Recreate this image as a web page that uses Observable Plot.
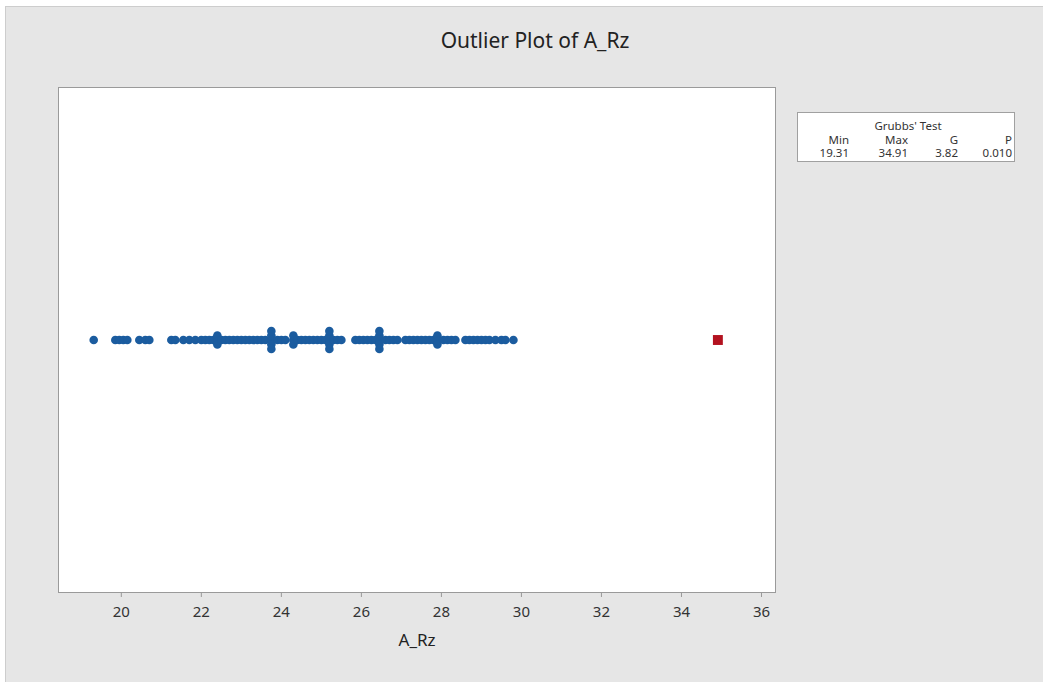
<!DOCTYPE html>
<html>
<head>
<meta charset="utf-8">
<script src="https://cdn.jsdelivr.net/npm/d3@7"></script>
<script src="https://cdn.jsdelivr.net/npm/@observablehq/plot@0.6"></script>
<style>
  html, body { margin: 0; padding: 0; background: #ffffff; }
  body { width: 1043px; height: 682px; position: relative; overflow: hidden; font-family: "Noto Sans", "Open Sans", sans-serif; }
  #panel { position: absolute; left: 5px; top: 6px; width: 1040px; height: 680px; background: #e6e6e6; border: 1px solid #cdcdcd; box-sizing: border-box; }
  #title { position: absolute; left: 235px; width: 600px; top: 26px; text-align: center; font-size: 21px; color: #222; }
  #chart { position: absolute; left: 0; top: 0; }
  #legend { position: absolute; left: 797px; top: 112px; width: 218px; height: 50px; background: #fff; border: 1px solid #a0a0a0; box-sizing: border-box; padding-top: 6px; font-size: 11.5px; color: #333; line-height: 13.5px; }
  #legend .head { text-align: center; padding-left: 4px; }
  #legend .row { display: grid; grid-template-columns: 51px 59px 50px 54px; }
  #legend .row span { text-align: right; }
</style>
</head>
<body>
<div id="panel"></div>
<div id="title">Outlier Plot of A_Rz</div>
<div id="chart"></div>
<div id="legend"></div>
<script>
// Data
const values = [19.31,
  19.85, 19.95, 20.05, 20.15,
  20.45, 20.6, 20.7,
  21.25, 21.35, 21.55, 21.7, 21.85, 22.0, 22.1, 22.2, 22.3, 22.4, 22.4, 22.4, 22.5, 22.6, 22.7,
  22.8, 22.9, 23.0, 23.1, 23.2, 23.3, 23.4, 23.5, 23.6, 23.75, 23.75, 23.75, 23.75, 23.75,
  23.9, 24.0, 24.1, 24.3, 24.3, 24.3, 24.4, 24.5, 24.6, 24.7, 24.8, 24.9, 25.0, 25.1,
  25.2, 25.2, 25.2, 25.2, 25.2, 25.3, 25.4, 25.5,
  25.85, 25.95, 26.05, 26.15, 26.25, 26.35, 26.45, 26.45, 26.45, 26.45, 26.45, 26.6, 26.7, 26.8, 26.9,
  27.1, 27.2, 27.3, 27.4, 27.5, 27.6, 27.7, 27.8, 27.9, 27.9, 27.9, 28.05, 28.15, 28.25, 28.35,
  28.6, 28.7, 28.8, 28.9, 29.0, 29.1, 29.2, 29.35, 29.5, 29.6, 29.8];
const outliers = [34.91];
const xTicks = [20, 22, 24, 26, 28, 30, 32, 34, 36];
const testTitle = "Grubbs' Test";
const testHeaders = ["Min", "Max", "G", "P"];
const testValues = ["19.31", "34.91", "3.82", "0.010"];

// stack tied values alternately above/below the centre line
function stacked(arr) {
  const counts = new Map();
  return arr.map(v => {
    const k = counts.get(v) || 0;
    counts.set(v, k + 1);
    const off = k === 0 ? 0 : (k % 2 ? 1 : -1) * Math.ceil(k / 2);
    return {v, off};
  });
}
const pts = stacked(values);
const outPts = stacked(outliers);

const chart = Plot.plot({
  width: 800,
  height: 660,
  marginLeft: 58,
  marginRight: 25,
  marginTop: 87,
  marginBottom: 68,
  style: {background: "transparent", fontFamily: "Noto Sans, Open Sans, sans-serif", color: "#333"},
  x: {domain: [18.43, 36.35]},
  y: {domain: [-56, 56], axis: null},
  marks: [
    Plot.frame({fill: "#ffffff", stroke: "#9a9a9a"}),
    Plot.axisX({ticks: xTicks, tickSize: 5, tickPadding: 9, fontSize: 15, stroke: "#999", label: null, tickFormat: d => String(d)}),
    Plot.dot(pts, {x: "v", y: "off", r: 4.3, fill: "#1b5c9f", stroke: "none"}),
    Plot.dot(outPts, {x: "v", y: "off", r: 5.6, symbol: "square", fill: "#b3121f", stroke: "none"}),
    Plot.text(["A_Rz"], {frameAnchor: "bottom", dy: 53, text: d => d, fontSize: 17, fill: "#222"})
  ]
});
document.getElementById("chart").appendChild(chart);

const lg = document.getElementById("legend");
const h = document.createElement("div"); h.className = "head"; h.textContent = testTitle; lg.appendChild(h);
for (const rowData of [testHeaders, testValues]) {
  const r = document.createElement("div"); r.className = "row";
  for (const c of rowData) { const s = document.createElement("span"); s.textContent = c; r.appendChild(s); }
  lg.appendChild(r);
}
</script>
</body>
</html>
